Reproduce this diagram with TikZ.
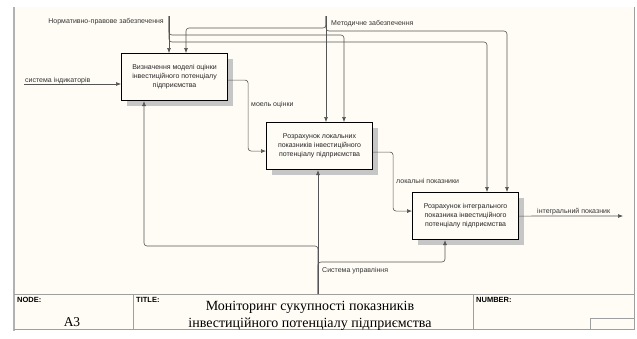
\documentclass[tikz,border=0pt]{standalone}
\usepackage{fontspec}
\setmainfont{Liberation Serif}
\setsansfont{Liberation Sans}
\usetikzlibrary{arrows.meta, positioning, shadows}
\definecolor{paper}{RGB}{255,252,245}
\definecolor{linegray}{RGB}{85,85,85}

\begin{document}
\begin{tikzpicture}[
        x=1pt, y=-1pt,
        func/.style={rectangle, draw=black, line width=1.1pt, fill=paper, minimum width=106pt, minimum height=47pt, align=center, anchor=north west, font=\sffamily\fontsize{7}{9}\selectfont, text=black!85, drop shadow={shadow xshift=5pt, shadow yshift=-5pt, fill=gray!45, opacity=1}},
        lbl/.style={font=\sffamily\fontsize{7}{8}\selectfont, text=black!80, inner sep=0pt},
        cell/.style={font=\sffamily\bfseries\fontsize{7.5}{8}\selectfont, anchor=north west, inner sep=0pt},
        link/.style={draw=linegray, line width=0.6pt, rounded corners=3pt},
        arrow/.style={link, -{Latex[length=5pt, width=4pt]}},
        frame/.style={draw=gray!75, line width=0.6pt}
    ]
    \fill[white] (0,0) rectangle (637,338);
    \fill[paper] (14,7) rectangle (634,330);
    \draw[gray!60, line width=2pt] (14,7) -- (14,331);
    \draw[frame] (634,7) -- (634,329);
    \draw[frame] (14,294) -- (634,294);
    \draw[frame] (14,329) -- (634,329);
    \draw[frame] (133,294) -- (133,329);
    \draw[frame] (473,294) -- (473,329);
    \draw[frame] (590,318) rectangle (634,329);

    \node[func] (fn_model) at (121,53) {Визначення моделі оцінки\\інвестиційного потенціалу\\підприємства};
    \node[func] (fn_local) at (266,122) {Розрахунок локальних\\показників інвестиційного\\потенціалу підприємства};
    \node[func] (fn_integral) at (412,192) {Розрахунок інтегрального\\показника інвестиційного\\потенціалу підприємства};

    \coordinate (in_ind) at (24,84);
    \coordinate (out_int) at (623,216);
    \coordinate (ctl_norm) at (169,16);
    \coordinate (ctl_meth) at (326,16);
    \coordinate (mech_sys) at (318,294);

    \draw[arrow] (in_ind) -- (in_ind -| fn_model.west);
    \draw[arrow] ([yshift=-3pt]fn_model.east) -- ++(20,0) |- ([yshift=-5pt]fn_local.west);
    \draw[arrow] ([yshift=-6pt]fn_local.east) -- ++(20,0) |- ([yshift=5pt]fn_integral.west);
    \draw[arrow] (fn_integral.east) -- (out_int);

    \draw[arrow] (ctl_norm) -- (ctl_norm |- fn_model.north);
    \draw[arrow] (ctl_norm) |- (344,35) -- (344,35 |- fn_local.north);
    \draw[arrow] (ctl_norm) |- (487,42) -- (487,42 |- fn_integral.north);
    \draw[arrow] (ctl_meth) -- (ctl_meth |- fn_local.north);
    \draw[arrow] (ctl_meth) |- (186,28) -- (186,28 |- fn_model.north);
    \draw[arrow] (ctl_meth) |- (507,31) -- (507,31 |- fn_integral.north);

    \draw[arrow] (mech_sys) -- (mech_sys |- fn_local.south);
    \draw[arrow] (mech_sys) |- (144,246) -- (144,246 |- fn_model.south);
    \draw[arrow] (mech_sys) |- (445,262) -- (445,262 |- fn_integral.south);

    \node[lbl, anchor=east] (lbl_norm) at (164,22) {Нормативно-правове забезпечення};
    \node[lbl, anchor=west] (lbl_meth) at (331,24) {Методичне забезпечення};
    \node[lbl, anchor=base west] (lbl_ind) at (25,82.5) {система індикаторів};
    \node[lbl, anchor=west] (lbl_model) at (251,105) {моель оцінки};
    \node[lbl, anchor=west] (lbl_local) at (396,181) {локальні показники};
    \node[lbl, anchor=base west] (lbl_int) at (537,213.5) {інтегральний показник};
    \node[lbl, anchor=west] (lbl_sys) at (322,271) {Система управління};

    \node[cell] (cell_node) at (17,297) {NODE:};
    \node[cell] (cell_title) at (136,297) {TITLE:};
    \node[cell] (cell_number) at (476,297) {NUMBER:};
    \node[font=\fontsize{13.5}{16}\selectfont, inner sep=0pt] (node_id) at (72,322) {A3};
    \node[font=\fontsize{14}{16.5}\selectfont, align=center, inner sep=0pt] (diagram_title) at (310,316) {Моніторинг сукупності показників\\інвестиційного потенціалу підприємства};
\end{tikzpicture}
\end{document}
